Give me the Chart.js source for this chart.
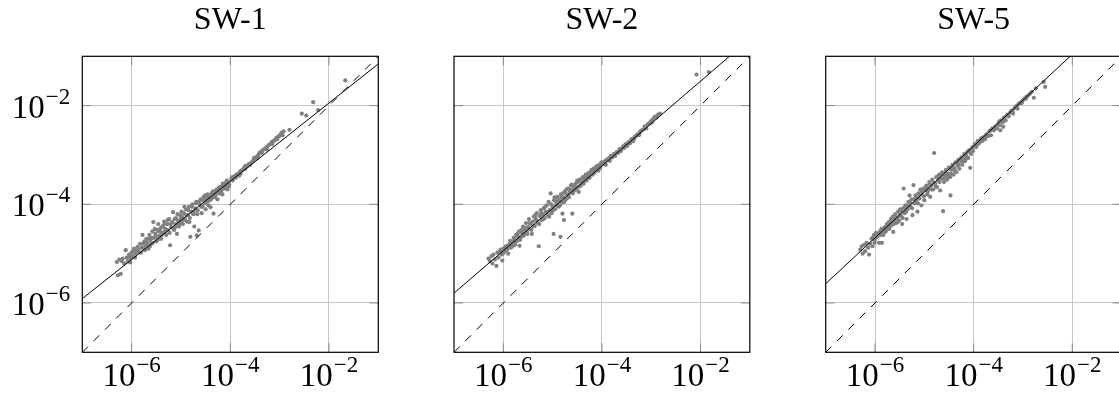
<!DOCTYPE html>
<html lang="en">

<head>
    <meta charset="UTF-8">
    <script src="https://cdn.jsdelivr.net/npm/chart.js@4.4.1/dist/chart.umd.min.js"></script>
    <title>SW scatter</title>
    <style>
        html, body { margin: 0; padding: 0; background: #fff; overflow: hidden; width: 1119px; height: 396px; }
        canvas { position: absolute; top: 0; }
    </style>
</head>

<body>
    <canvas id="c1" width="390" height="396" style="left:0px"></canvas>
    <canvas id="c2" width="375" height="396" style="left:390px"></canvas>
    <canvas id="c3" width="360" height="396" style="left:765px"></canvas>

    <script>
        // all values are log10 exponents: [log10(x), log10(y)]
        const titles = ['SW-1', 'SW-2', 'SW-5'];
        const tickExps = [-6, -4, -2];
        const axisMin = 1e-7, axisMax = 1e-1;

        const identityLine = [[-7, -7], [-1, -1]];
        const sw1Fit = [[-7, -5.912], [-1, -1.154]];
        const sw2Fit = [[-7, -5.80], [-1, -0.646]];
        const sw5Fit = [[-7, -5.61], [-1, -0.03]];

        const sw1Pts = [
            [-6.30,-5.17],[-6.28,-5.44],[-6.25,-5.12],[-6.22,-5.41],[-6.20,-5.15],[-6.18,-5.10],[-6.15,-5.20],[-6.12,-4.93],
            [-6.10,-5.08],[-6.08,-5.15],[-6.05,-5.02],[-6.02,-5.10],[-6.00,-4.98],[-5.98,-5.05],[-5.95,-4.90],[-5.92,-5.00],
            [-5.90,-4.95],[-5.88,-4.86],[-5.85,-4.97],[-5.83,-4.80],[-5.80,-4.88],[-5.78,-4.62],
            [-5.76,-4.90],[-5.74,-4.75],[-5.72,-4.84],[-5.70,-4.70],[-5.68,-4.78],[-5.66,-4.90],[-5.64,-4.62],[-5.62,-4.72],
            [-5.60,-4.80],[-5.58,-4.55],[-5.56,-4.36],[-5.55,-4.68],[-5.52,-4.60],[-5.50,-4.75],[-5.48,-4.52],[-5.46,-4.40],
            [-5.44,-4.64],[-5.42,-4.55],[-5.40,-4.70],[-5.38,-4.45],[-5.36,-4.58],[-5.34,-4.35],[-5.32,-4.50],[-5.30,-4.62],
            [-5.28,-4.40],[-5.26,-4.53],[-5.24,-4.30],[-5.22,-4.83],[-5.20,-4.46],[-5.18,-4.36],[-5.16,-4.16],[-5.14,-4.52],
            [-5.12,-4.40],[-5.10,-4.28],[-5.08,-4.60],[-5.06,-4.34],[-5.04,-4.45],[-5.02,-4.22],[-5.00,-4.38],
            [-4.98,-4.25],[-4.96,-4.40],[-4.94,-4.18],[-4.92,-4.30],[-4.90,-4.10],[-4.88,-4.35],[-4.86,-4.22],[-4.84,-4.05],
            [-4.82,-4.28],[-4.81,-4.66],[-4.79,-4.15],[-4.77,-4.00],[-4.75,-4.20],[-4.73,-4.45],[-4.71,-4.08],[-4.69,-3.95],
            [-4.68,-4.63],[-4.66,-4.12],[-4.64,-4.53],[-4.62,-4.00],[-4.60,-3.90],[-4.58,-4.18],[-4.56,-4.05],[-4.54,-3.85],
            [-4.52,-3.98],[-4.50,-4.10],[-4.48,-3.88],[-4.46,-3.80],[-4.44,-4.02],[-4.42,-3.92],[-4.40,-4.06],[-4.38,-3.78],
            [-4.36,-3.86],[-4.34,-4.19],[-4.32,-3.75],[-4.30,-3.82],[-4.28,-3.70],[-4.26,-3.90],[-4.24,-3.72],[-4.22,-3.78],
            [-4.20,-3.64],[-4.18,-3.72],[-4.16,-3.80],[-4.14,-3.62],[-4.12,-3.68],[-4.10,-3.57],[-4.08,-3.63],[-4.06,-3.70],
            [-4.04,-3.55],[-4.02,-3.60],
            [-3.98,-3.48],[-3.95,-3.52],[-3.92,-3.44],[-3.90,-3.42],[-3.87,-3.40],[-3.84,-3.38],[-3.82,-3.42],[-3.80,-3.33],
            [-3.77,-3.31],[-3.74,-3.30],[-3.72,-3.26],[-3.70,-3.28],[-3.67,-3.24],[-3.64,-3.21],[-3.62,-3.18],[-3.60,-3.20],
            [-3.57,-3.15],[-3.54,-3.12],[-3.52,-3.06],[-3.50,-3.08],[-3.47,-3.04],[-3.44,-3.02],[-3.42,-2.98],[-3.40,-2.95],
            [-3.37,-2.93],[-3.34,-2.90],[-3.31,-2.88],[-3.28,-2.86],[-3.25,-2.83],[-3.22,-2.80],[-3.19,-2.78],[-3.16,-2.74],
            [-3.13,-2.72],[-3.10,-2.70],[-3.07,-2.66],[-3.04,-2.64],[-3.01,-2.62],[-2.98,-2.58],[-2.96,-2.55],[-2.94,-2.60],
            [-2.92,-2.52],[-2.80,-2.49],
            [-2.55,-2.16],[-2.46,-2.20],[-2.32,-1.93],[-2.22,-2.09],[-1.67,-1.49],
            [-6.05,-5.05],[-6.03,-5.18],[-5.97,-4.95],[-5.93,-5.08],[-5.87,-4.92],[-5.81,-4.98],[-5.77,-4.80],[-5.73,-4.93],
            [-5.69,-4.82],[-5.65,-4.70],[-5.63,-4.85],[-5.59,-4.68],[-5.57,-4.78],[-5.53,-4.50],[-5.51,-4.65],[-5.47,-4.72],
            [-5.45,-4.55],[-5.41,-4.48],[-5.39,-4.62],[-5.35,-4.42],[-5.33,-4.56],[-5.29,-4.52],[-5.27,-4.32],[-5.23,-4.58],
            [-5.21,-4.40],[-5.17,-4.48],[-5.13,-4.30],[-5.11,-4.46],[-5.07,-4.20],[-5.05,-4.40],[-5.01,-4.30],[-4.99,-4.15],
            [-4.95,-4.32],[-4.93,-4.05],[-4.89,-4.22],[-4.85,-4.12],[-4.83,-4.36],[-4.78,-4.05],[-4.74,-4.15],[-4.70,-3.98],
            [-4.67,-4.20],[-4.63,-3.95],[-4.59,-4.05],[-4.55,-3.92],[-4.51,-3.82],[-4.47,-3.95],[-4.43,-3.84],[-4.39,-3.90],
            [-4.35,-3.74],[-4.31,-3.85],[-4.27,-3.76],[-4.23,-3.66],[-4.19,-3.76],[-4.15,-3.58],[-4.11,-3.62],[-4.07,-3.52],
            [-4.03,-3.64],[-3.96,-3.45],[-3.89,-3.46],[-3.79,-3.38],[-3.69,-3.22],[-3.58,-3.17],[-3.45,-3.06],[-3.36,-2.96],
            [-3.26,-2.89],[-3.15,-2.78],[-3.05,-2.68]
        ];

        const sw2Pts = [
            [-6.30,-5.10],[-6.27,-5.15],[-6.24,-5.05],[-6.22,-5.20],[-6.20,-5.02],[-6.17,-5.12],[-6.14,-5.25],[-6.12,-4.98],
            [-6.10,-5.08],[-6.07,-4.95],[-6.04,-5.02],[-6.02,-5.14],[-6.00,-4.90],[-5.97,-4.96],[-5.95,-4.85],[-5.92,-4.92],
            [-5.90,-5.00],[-5.87,-4.80],[-5.85,-4.88],[-5.82,-4.76],[-5.80,-4.84],
            [-5.78,-4.70],[-5.76,-4.82],[-5.74,-4.62],[-5.72,-4.74],[-5.70,-4.66],[-5.68,-4.55],[-5.67,-4.84],[-5.65,-4.68],
            [-5.62,-4.58],[-5.60,-4.45],[-5.58,-4.62],[-5.56,-4.52],[-5.54,-4.38],[-5.52,-4.56],[-5.50,-4.46],[-5.48,-4.30],
            [-5.46,-4.50],[-5.44,-4.40],[-5.42,-4.60],[-5.40,-4.35],[-5.38,-4.25],[-5.36,-4.44],[-5.34,-4.30],[-5.32,-4.18],
            [-5.30,-4.38],[-5.28,-4.85],[-5.26,-4.24],[-5.24,-4.12],[-5.22,-4.32],[-5.20,-4.20],[-5.18,-4.08],[-5.16,-4.28],
            [-5.14,-4.15],[-5.12,-4.02],[-5.10,-4.22],[-5.08,-3.95],[-5.06,-4.12],[-5.04,-3.78],[-5.02,-4.18],[-5.00,-4.05],
            [-4.98,-4.60],
            [-4.97,-3.92],[-4.95,-4.10],[-4.92,-3.98],[-4.90,-3.85],[-4.88,-4.05],[-4.86,-3.92],[-4.84,-4.66],[-4.83,-3.80],
            [-4.81,-3.96],[-4.80,-4.19],[-4.78,-3.86],[-4.77,-4.32],[-4.75,-3.74],[-4.73,-3.90],[-4.71,-3.80],[-4.69,-3.68],
            [-4.67,-3.86],[-4.65,-3.75],[-4.63,-3.62],[-4.60,-4.19],[-4.59,-3.78],[-4.57,-3.65],[-4.55,-3.72],[-4.53,-3.58],
            [-4.51,-3.68],[-4.49,-3.55],[-4.47,-3.75],[-4.45,-3.50],[-4.43,-3.62],[-4.41,-3.52],[-4.39,-3.45],[-4.37,-3.58],
            [-4.35,-3.48],[-4.33,-3.40],[-4.31,-3.52],[-4.29,-3.42],[-4.27,-3.36],[-4.25,-3.46],[-4.23,-3.35],[-4.21,-3.30],
            [-4.19,-3.40],[-4.17,-3.28],[-4.15,-3.36],[-4.13,-3.25],[-4.11,-3.30],[-4.09,-3.22],[-4.07,-3.32],[-4.05,-3.20],
            [-4.03,-3.26],[-4.01,-3.15],
            [-3.98,-3.18],[-3.95,-3.14],[-3.92,-3.20],[-3.90,-3.10],[-3.87,-3.08],[-3.84,-3.12],[-3.82,-3.02],[-3.79,-3.05],
            [-3.76,-2.98],[-3.73,-3.02],[-3.70,-2.94],[-3.67,-2.96],[-3.64,-2.88],[-3.61,-2.92],[-3.58,-2.84],[-3.55,-2.86],
            [-3.52,-2.78],[-3.49,-2.82],[-3.46,-2.74],[-3.43,-2.76],[-3.40,-2.68],[-3.37,-2.72],[-3.34,-2.64],[-3.31,-2.62],
            [-3.28,-2.58],[-3.25,-2.60],[-3.22,-2.52],[-3.19,-2.50],[-3.16,-2.48],[-3.13,-2.42],[-3.10,-2.46],[-3.07,-2.38],
            [-3.04,-2.36],[-3.01,-2.32],[-2.98,-2.30],[-2.95,-2.26],[-2.92,-2.22],[-2.89,-2.24],[-2.86,-2.18],[-2.82,-2.16],
            [-2.08,-1.37],[-1.83,-1.32],
            [-6.05,-4.92],[-6.01,-5.00],[-5.96,-4.88],[-5.91,-4.84],[-5.86,-4.74],[-5.83,-4.86],[-5.79,-4.68],[-5.75,-4.76],
            [-5.71,-4.60],[-5.66,-4.72],[-5.63,-4.52],[-5.59,-4.64],[-5.55,-4.48],[-5.51,-4.60],[-5.47,-4.38],[-5.43,-4.52],
            [-5.39,-4.45],[-5.35,-4.22],[-5.31,-4.34],[-5.27,-4.40],[-5.23,-4.18],[-5.19,-4.30],[-5.15,-4.05],[-5.11,-4.16],
            [-5.07,-4.25],[-5.03,-4.00],[-4.99,-4.12],[-4.96,-3.86],[-4.93,-4.02],[-4.89,-3.92],[-4.85,-4.02],[-4.82,-3.86],
            [-4.79,-3.78],[-4.76,-3.95],[-4.72,-3.70],[-4.68,-3.82],[-4.64,-3.70],[-4.61,-3.60],[-4.58,-3.72],[-4.54,-3.64],
            [-4.50,-3.52],[-4.46,-3.64],[-4.42,-3.55],[-4.38,-3.50],[-4.34,-3.44],[-4.30,-3.46],[-4.26,-3.40],[-4.22,-3.38],
            [-4.18,-3.32],[-4.14,-3.30],[-4.10,-3.26],[-4.06,-3.24],[-4.02,-3.20],[-3.93,-3.12],[-3.85,-3.06],[-3.75,-2.99],
            [-3.65,-2.92],[-3.56,-2.82],[-3.45,-2.77],[-3.35,-2.68],[-3.24,-2.56],[-3.12,-2.46],[-2.99,-2.34]
        ];

        const sw5Pts = [
            [-6.30,-4.92],[-6.27,-4.85],[-6.25,-5.00],[-6.22,-4.82],[-6.20,-4.95],[-6.17,-4.78],[-6.14,-4.88],[-6.12,-5.02],
            [-6.10,-4.80],[-6.07,-4.70],[-6.05,-4.85],[-6.02,-4.62],[-6.00,-4.72],[-5.98,-4.58],[-5.95,-4.66],[-5.92,-4.78],
            [-5.90,-4.55],[-5.88,-4.62],[-5.86,-4.78],[-5.84,-4.50],[-5.82,-4.58],
            [-5.80,-4.46],[-5.78,-4.55],[-5.76,-4.40],[-5.74,-4.48],[-5.72,-4.36],[-5.70,-4.45],[-5.68,-4.30],[-5.66,-4.42],
            [-5.64,-4.25],[-5.63,-4.56],[-5.61,-4.32],[-5.59,-4.20],[-5.57,-4.38],[-5.55,-4.28],[-5.53,-4.15],[-5.51,-4.33],
            [-5.49,-4.10],[-5.47,-4.24],[-5.45,-4.40],[-5.43,-4.08],[-5.42,-3.68],[-5.40,-4.18],[-5.38,-4.02],[-5.36,-4.30],
            [-5.34,-4.10],[-5.32,-3.95],[-5.30,-3.82],[-5.28,-4.05],[-5.26,-3.90],[-5.24,-4.22],[-5.22,-3.61],[-5.20,-3.98],
            [-5.18,-3.82],[-5.16,-3.92],[-5.14,-4.15],[-5.12,-3.78],[-5.10,-3.88],[-5.08,-3.70],[-5.06,-4.02],[-5.04,-3.80],
            [-5.02,-3.68],[-5.00,-3.92],
            [-4.98,-3.72],[-4.96,-3.62],[-4.94,-3.80],[-4.92,-3.68],[-4.90,-3.55],[-4.88,-3.85],[-4.86,-3.62],[-4.84,-3.50],
            [-4.82,-3.70],[-4.80,-2.96],[-4.78,-3.58],[-4.76,-3.45],[-4.74,-3.65],[-4.72,-3.52],[-4.70,-3.40],[-4.68,-3.72],
            [-4.66,-3.48],[-4.64,-3.35],[-4.62,-4.14],[-4.60,-3.55],[-4.58,-3.42],[-4.56,-3.30],[-4.54,-3.50],[-4.52,-3.38],
            [-4.50,-3.25],[-4.48,-3.45],[-4.47,-3.82],[-4.45,-3.30],[-4.43,-3.20],[-4.41,-3.40],[-4.39,-3.28],[-4.37,-3.15],
            [-4.35,-3.35],[-4.33,-3.22],[-4.31,-3.10],[-4.29,-3.28],[-4.27,-3.12],[-4.25,-3.05],[-4.23,-3.20],[-4.21,-3.08],
            [-4.19,-2.98],[-4.17,-3.12],[-4.15,-3.02],[-4.13,-2.94],[-4.11,-3.06],[-4.09,-2.90],[-4.07,-3.26],[-4.05,-2.98],
            [-4.03,-2.86],[-4.01,-2.92],
            [-3.98,-2.78],[-3.95,-2.84],[-3.92,-2.72],[-3.89,-2.76],[-3.86,-2.68],[-3.83,-2.72],[-3.80,-2.64],[-3.77,-2.68],
            [-3.74,-2.58],[-3.71,-2.62],[-3.68,-2.52],[-3.65,-2.60],[-3.62,-2.46],[-3.59,-2.50],[-3.56,-2.42],[-3.53,-2.46],
            [-3.50,-2.36],[-3.47,-2.40],[-3.46,-2.50],[-3.44,-2.30],[-3.41,-2.34],[-3.40,-2.43],[-3.38,-2.24],[-3.35,-2.30],
            [-3.32,-2.18],[-3.29,-2.22],[-3.26,-2.14],[-3.23,-2.10],[-3.20,-2.16],[-3.17,-2.05],[-3.14,-2.02],[-3.11,-2.06],
            [-3.08,-1.96],[-3.05,-1.94],[-3.02,-1.92],[-2.99,-1.88],[-2.96,-1.85],[-2.93,-1.82],[-2.90,-1.80],[-2.86,-1.76],
            [-2.82,-1.72],[-2.78,-1.84],[-2.74,-1.65],[-2.58,-1.52],[-2.55,-1.62],
            [-6.05,-4.68],[-6.01,-4.78],[-5.96,-4.62],[-5.91,-4.60],[-5.87,-4.50],[-5.83,-4.62],[-5.79,-4.52],[-5.75,-4.44],
            [-5.71,-4.50],[-5.67,-4.36],[-5.62,-4.40],[-5.58,-4.28],[-5.54,-4.36],[-5.50,-4.22],[-5.46,-4.14],[-5.44,-4.28],
            [-5.40,-4.06],[-5.37,-4.15],[-5.33,-4.02],[-5.29,-3.96],[-5.25,-4.08],[-5.21,-3.90],[-5.17,-3.86],[-5.13,-3.98],
            [-5.09,-3.80],[-5.05,-3.74],[-5.01,-3.84],[-4.97,-3.66],[-4.93,-3.74],[-4.89,-3.60],[-4.85,-3.70],[-4.81,-3.56],
            [-4.77,-3.64],[-4.73,-3.44],[-4.69,-3.55],[-4.65,-3.40],[-4.61,-3.48],[-4.57,-3.34],[-4.53,-3.44],[-4.49,-3.28],
            [-4.46,-3.38],[-4.42,-3.24],[-4.38,-3.32],[-4.34,-3.16],[-4.30,-3.20],[-4.26,-3.08],[-4.22,-3.14],[-4.18,-3.00],
            [-4.14,-3.06],[-4.10,-2.92],[-4.06,-2.96],[-4.02,-2.84],[-3.93,-2.80],[-3.84,-2.66],[-3.75,-2.62],[-3.66,-2.50],
            [-3.57,-2.46],[-3.48,-2.32],[-3.39,-2.28],[-3.30,-2.20],[-3.21,-2.12],[-3.12,-2.00],[-3.03,-1.95],[-2.94,-1.86]
        ];

        const panels = [
            { id: 'c1', title: titles[0], pts: sw1Pts, fit: sw1Fit, yLabels: true, pad: { left: 82.3, right: 11.7 } },
            { id: 'c2', title: titles[1], pts: sw2Pts, fit: sw2Fit, yLabels: false, pad: { left: 64, right: 15.2 } },
            { id: 'c3', title: titles[2], pts: sw5Pts, fit: sw5Fit, yLabels: false, pad: { left: 60.7, right: 3.4 } }
        ];

        const toXY = arr => arr.map(([a, b]) => ({ x: Math.pow(10, a), y: Math.pow(10, b) }));
        const BASE_FONT = '33px "Liberation Serif"';
        const SUP_FONT = '23px "Liberation Serif"';

        function drawPow(ctx, exp, x, y, align) {
            ctx.font = BASE_FONT;
            const w1 = ctx.measureText('10').width;
            const s = '\u2212' + (-exp);
            ctx.font = SUP_FONT;
            const w2 = ctx.measureText(s).width;
            const total = w1 + 1 + w2;
            const x0 = align === 'center' ? x - total / 2 : x - total;
            ctx.font = BASE_FONT;
            ctx.fillText('10', x0, y);
            ctx.font = SUP_FONT;
            ctx.fillText(s, x0 + w1 + 1, y - 14);
        }

        const framePlugin = {
            id: 'frame',
            afterDraw(chart, args, opts) {
                const { ctx, chartArea: a, scales: { x, y } } = chart;
                ctx.save();
                // tick marks inside the box
                ctx.strokeStyle = '#8a8a8a';
                ctx.lineWidth = 1;
                ctx.beginPath();
                tickExps.forEach(e => {
                    const px = x.getPixelForValue(Math.pow(10, e));
                    const py = y.getPixelForValue(Math.pow(10, e));
                    ctx.moveTo(px, a.bottom); ctx.lineTo(px, a.bottom - 9);
                    ctx.moveTo(px, a.top); ctx.lineTo(px, a.top + 9);
                    ctx.moveTo(a.left, py); ctx.lineTo(a.left + 9, py);
                    ctx.moveTo(a.right, py); ctx.lineTo(a.right - 9, py);
                });
                ctx.stroke();
                // box
                ctx.strokeStyle = '#000';
                ctx.lineWidth = 1.2;
                ctx.strokeRect(a.left, a.top, a.right - a.left, a.bottom - a.top);
                // labels
                ctx.fillStyle = '#000';
                ctx.textBaseline = 'alphabetic';
                ctx.textAlign = 'left';
                tickExps.forEach(e => {
                    const px = x.getPixelForValue(Math.pow(10, e));
                    drawPow(ctx, e, px, 386, 'center');
                    if (opts.yLabels) {
                        const py = y.getPixelForValue(Math.pow(10, e));
                        drawPow(ctx, e, a.left - 12, py + 12, 'right');
                    }
                });
                // title
                ctx.font = '32px "Liberation Serif"';
                ctx.textAlign = 'center';
                ctx.fillText(opts.title, (a.left + a.right) / 2, 29);
                ctx.restore();
            }
        };

        const axis = horiz => ({
            type: 'logarithmic',
            min: axisMin,
            max: axisMax,
            afterBuildTicks: s => { s.ticks = tickExps.map(e => ({ value: Math.pow(10, e) })); },
            afterFit: s => { if (horiz) s.height = 0; else s.width = 0; },
            ticks: { display: false },
            grid: { color: '#c8c8c8', lineWidth: 1, drawTicks: false },
            border: { display: false }
        });

        panels.forEach(p => {
            new Chart(document.getElementById(p.id), {
                type: 'scatter',
                data: {
                    datasets: [
                        {
                            type: 'line', data: toXY(p.fit), borderColor: '#000', borderWidth: 1,
                            pointRadius: 0, fill: false, order: 0
                        },
                        {
                            type: 'line', data: toXY(identityLine), borderColor: '#000', borderWidth: 1,
                            borderDash: [8, 8], pointRadius: 0, fill: false, order: 0
                        },
                        {
                            data: toXY(p.pts), backgroundColor: '#808080', borderWidth: 0,
                            pointRadius: 2.1, order: 1
                        }
                    ]
                },
                options: {
                    responsive: false,
                    animation: false,
                    devicePixelRatio: 1,
                    layout: { autoPadding: false, padding: { left: p.pad.left, right: p.pad.right, top: 56.3, bottom: 43.7 } },
                    plugins: {
                        legend: { display: false },
                        tooltip: { enabled: false },
                        frame: { yLabels: p.yLabels, title: p.title }
                    },
                    scales: { x: axis(true), y: axis(false) }
                },
                plugins: [framePlugin]
            });
        });
    </script>
</body>

</html>
